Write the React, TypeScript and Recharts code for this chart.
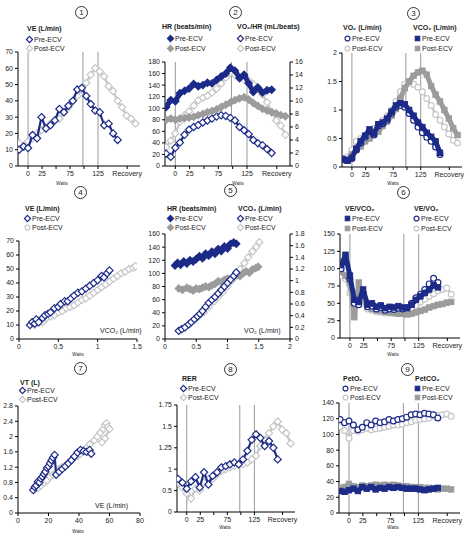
import React from 'react';
import { ScatterChart, Scatter, XAxis, YAxis, ReferenceLine } from 'recharts';

// shared time axis (watts / recovery), sampled every 8 units
const TIME = [-16, -8, 0, 8, 16, 24, 32, 40, 48, 56, 64, 72, 80, 88, 96, 104, 112, 120, 128, 136, 144, 152, 160, 168, 176, 184, 192];
const WATT_TICKS = [0, 25, 50, 75, 100, 125, 177];
const WATT_LABELS = ['0', '25', '', '75', '', '125', 'Recovery'];
const STAGE_LINES = [0, 98, 125];

// 1: VE over time
const p1PreVE = [10, 12, 11, 19, 17, 30, 23, 25, 28, 35, 33, 37, 40, 47, 48, 43, 38, 34, 33, 25, 26, 20, 16];
const p1PostVE = [14, 12, 15, 17, 20, 22, 24, 26, 28, 29, 33, 36, 40, 43, 47, 51, 56, 60, 58, 55, 49, 46, 40, 36, 31, 29, 26];

// 2: HR and VO2/HR over time
const p2PreHR = [102, 114, 112, 126, 130, 134, 142, 138, 140, 144, 143, 149, 155, 160, 170, 165, 152, 158, 143, 128, 136, 127, 131, 132];
const p2PostHR = [80, 82, 80, 82, 83, 84, 85, 88, 90, 93, 95, 98, 102, 106, 110, 114, 117, 119, 115, 109, 104, 99, 96, 93, 91, 88, 86];
const p2PrePulse = [1.9, 1.4, 2.8, 3.6, 4.8, 5.6, 6.0, 6.3, 6.7, 7.0, 7.3, 7.6, 7.8, 7.7, 7.4, 7.0, 6.0, 5.5, 4.9, 4.0, 3.5, 3.2, 2.6, 2.0];
const p2PostPulse = [2.9, 3.9, 5.0, 6.8, 7.8, 8.4, 9.3, 10.1, 10.5, 10.8, 11.3, 11.9, 12.7, 13.6, 14.3, 14.0, 13.8, 13.3, 13.2, 12.6, 11.9, 11.0, 9.8, 8.3, 7.0, 6.2, 4.8];

// 3: VO2 and VCO2 over time
const p3PreVO2 = [0.14, 0.12, 0.15, 0.3, 0.42, 0.52, 0.62, 0.56, 0.72, 0.76, 0.82, 0.94, 1.05, 1.08, 1.05, 0.94, 0.82, 0.7, 0.6, 0.52, 0.45, 0.35, 0.22];
const p3PreVCO2 = [0.13, 0.11, 0.16, 0.32, 0.45, 0.55, 0.66, 0.58, 0.75, 0.78, 0.85, 0.97, 1.08, 1.12, 1.1, 1.0, 0.9, 0.78, 0.7, 0.6, 0.53, 0.45, 0.25];
const p3PostVO2 = [0.15, 0.18, 0.3, 0.45, 0.5, 0.55, 0.62, 0.68, 0.75, 0.82, 0.9, 1.0, 1.15, 1.32, 1.45, 1.5, 1.45, 1.4, 1.32, 1.2, 1.08, 0.92, 0.82, 0.7, 0.58, 0.47, 0.42];
const p3PostVCO2 = [0.12, 0.13, 0.22, 0.3, 0.36, 0.45, 0.5, 0.58, 0.62, 0.72, 0.8, 0.9, 1.02, 1.2, 1.38, 1.5, 1.6, 1.66, 1.69, 1.62, 1.42, 1.27, 1.15, 1.0, 0.85, 0.68, 0.56];

// 4: VE vs VCO2
const p4PreVCO2 = [0.14, 0.17, 0.2, 0.22, 0.25, 0.3, 0.33, 0.37, 0.4, 0.45, 0.5, 0.53, 0.58, 0.62, 0.66, 0.7, 0.75, 0.8, 0.85, 0.9, 0.95, 1.0, 1.05, 1.08, 1.12, 1.15];
const p4PreVE = [10, 12, 11, 14, 12, 15, 17, 18, 19, 22, 23, 25, 27, 27, 29, 31, 33, 34, 36, 38, 40, 42, 45, 44, 47, 49];
const p4PostVCO2 = [0.16, 0.2, 0.25, 0.3, 0.35, 0.4, 0.45, 0.5, 0.55, 0.6, 0.65, 0.7, 0.75, 0.8, 0.85, 0.9, 0.95, 1.0, 1.05, 1.1, 1.15, 1.2, 1.25, 1.3, 1.35, 1.4, 1.45, 1.48];
const p4PostVE = [12, 10, 13, 12, 15, 16, 17, 19, 20, 22, 23, 24, 26, 28, 29, 31, 33, 35, 37, 39, 41, 43, 45, 47, 48, 50, 51, 52];

// 5: HR and VCO2 vs VO2
const p5PreVO2HR = [0.16, 0.2, 0.25, 0.3, 0.35, 0.4, 0.45, 0.5, 0.55, 0.6, 0.65, 0.7, 0.75, 0.8, 0.85, 0.9, 0.95, 1.0, 1.05, 1.1, 1.14];
const p5PreHR = [112, 116, 113, 118, 115, 120, 118, 122, 126, 123, 130, 127, 133, 130, 137, 134, 141, 138, 145, 147, 145];
const p5PostVO2HR = [0.22, 0.28, 0.35, 0.4, 0.45, 0.5, 0.55, 0.6, 0.65, 0.7, 0.75, 0.8, 0.85, 0.9, 0.95, 1.0, 1.05, 1.1, 1.15, 1.2, 1.25, 1.3, 1.35, 1.4, 1.45, 1.49];
const p5PostHR = [77, 75, 78, 76, 74, 77, 76, 78, 80, 79, 82, 84, 88, 87, 90, 92, 91, 95, 97, 96, 100, 103, 101, 106, 108, 110];
const p5PreVO2 = [0.22, 0.27, 0.32, 0.38, 0.42, 0.47, 0.52, 0.56, 0.6, 0.65, 0.7, 0.75, 0.8, 0.85, 0.9, 0.95, 1.0, 1.05, 1.1, 1.14];
const p5PreVCO2 = [0.14, 0.17, 0.2, 0.25, 0.29, 0.34, 0.39, 0.43, 0.48, 0.55, 0.62, 0.67, 0.72, 0.78, 0.84, 0.9, 0.96, 1.02, 1.08, 1.14];
const p5PostVO2 = [0.25, 0.32, 0.4, 0.48, 0.55, 0.62, 0.7, 0.78, 0.85, 0.92, 1.0, 1.07, 1.14, 1.2, 1.27, 1.33, 1.4, 1.46, 1.51];
const p5PostVCO2 = [0.16, 0.2, 0.26, 0.33, 0.4, 0.46, 0.55, 0.64, 0.72, 0.8, 0.9, 1.0, 1.1, 1.2, 1.3, 1.4, 1.5, 1.58, 1.66];

// 6: ventilatory equivalents over time
const p6PreVEVCO2 = [105, 120, 90, 55, 52, 70, 48, 50, 45, 47, 43, 45, 44, 46, 44, 43, 48, 55, 60, 65, 70, 76, 73];
const p6PreVEVO2 = [100, 110, 85, 50, 48, 65, 45, 46, 42, 44, 40, 42, 41, 43, 42, 44, 50, 58, 63, 70, 78, 86, 80];
const p6PostVEVCO2 = [95, 90, 80, 30, 80, 55, 45, 42, 40, 39, 38, 37, 36, 35, 35, 34, 35, 37, 39, 41, 44, 46, 48, 49, 51, 52];
const p6PostVEVO2 = [90, 85, 65, 35, 60, 50, 42, 40, 38, 37, 36, 36, 36, 37, 38, 40, 43, 47, 52, 56, 60, 64, 68, 70, 72, 63];

// 7: VT vs VE
const p7PreVE = [10, 11, 12, 13, 14, 15, 16, 17, 18, 19, 20, 21, 22, 23, 24, 25, 27, 29, 31, 33, 35, 37, 39, 41, 43, 45, 47, 48];
const p7PreVT = [0.6, 0.68, 0.72, 0.82, 0.8, 0.9, 0.95, 1.02, 1.08, 1.18, 1.22, 1.3, 1.38, 1.45, 1.52, 1.0, 1.08, 1.15, 1.22, 1.3, 1.38, 1.48, 1.58, 1.65, 1.62, 1.6, 1.65, 1.55];
const p7PostVE = [11, 13, 15, 17, 19, 21, 23, 25, 27, 29, 31, 33, 35, 37, 39, 41, 43, 45, 47, 50, 52, 54, 56, 57, 58, 59, 60, 57, 55];
const p7PostVT = [0.62, 0.65, 0.72, 0.8, 0.85, 0.95, 1.0, 1.05, 1.15, 1.2, 1.25, 1.3, 1.4, 1.45, 1.5, 1.55, 1.65, 1.7, 1.8, 1.9, 2.0, 2.1, 2.2, 2.3, 2.35, 2.25, 2.2, 1.95, 1.85];

// 8: RER over time (y in the evenly spaced units of the printed axis)
const RER_TICKS = [0, 0.35, 0.7, 1.05, 1.4, 1.75];
const RER_LABELS = ['0', '0.5', '1', '1.25', '1.5', '1.75'];
const p8PreRER = [0.54, 0.48, 0.38, 0.5, 0.57, 0.4, 0.65, 0.45, 0.59, 0.65, 0.73, 0.75, 0.78, 0.81, 0.78, 0.86, 1.0, 1.18, 1.27, 1.21, 1.08, 1.16, 1.05, 0.86];
const p8PostRER = [0.48, 0.4, 0.3, 0.22, 0.38, 0.35, 0.48, 0.54, 0.54, 0.62, 0.67, 0.7, 0.73, 0.75, 0.78, 0.78, 0.81, 0.86, 0.92, 1.08, 1.18, 1.29, 1.4, 1.48, 1.35, 1.29, 1.12];

// 9: end-tidal pressures over time
const p9PrePetO2 = [119, 115, 117, 112, 106, 109, 115, 112, 117, 115, 116, 119, 117, 119, 120, 122, 125, 126, 125, 127, 126, 125, 121];
const p9PostPetO2 = [110, 105, 95, 105, 104, 106, 108, 106, 107, 108, 109, 110, 112, 112, 113, 115, 116, 118, 119, 120, 121, 123, 124, 125, 126, 123];
const p9PrePetCO2 = [28, 27, 29, 31, 28, 33, 31, 33, 30, 32, 31, 33, 32, 33, 32, 31, 31, 31, 30, 29, 30, 31, 32];
const p9PostPetCO2 = [32, 33, 37, 34, 33, 35, 34, 35, 36, 35, 36, 35, 36, 35, 34, 34, 33, 33, 33, 32, 32, 31, 30, 31, 31, 30];

const NAVY = '#1c2a88';
const GRAY = '#9c9c9c';
const LIGHT = '#c6c6c6';

type Kind = 'diamond' | 'circle' | 'square';
type Axis = { domain: [number, number]; ticks: number[]; labels?: string[] };
type Series = { xs: number[]; ys: number[]; kind: Kind; color: string; filled: boolean; right?: boolean };

function Mark({ cx, cy, kind, color, filled, k = 1 }: { cx: number; cy: number; kind: Kind; color: string; filled: boolean; k?: number }) {
  if (cx == null || cy == null) return <g />;
  const fill = filled ? color : '#fff';
  if (kind === 'diamond') {
    const s = 3.6 * k;
    return <path d={`M${cx},${cy - s}L${cx + s},${cy}L${cx},${cy + s}L${cx - s},${cy}Z`} fill={fill} stroke={color} strokeWidth={1.2} />;
  }
  if (kind === 'circle') return <circle cx={cx} cy={cy} r={2.9 * k} fill={fill} stroke={color} strokeWidth={1.2} />;
  const h = 2.7 * k;
  return <rect x={cx - h} y={cy - h} width={2 * h} height={2 * h} fill={fill} stroke={color} strokeWidth={1} />;
}

const fmt = (ax: Axis) => (v: number) => (ax.labels ? ax.labels[ax.ticks.indexOf(v)] ?? '' : String(v));
const tickStyle = { fontSize: 7, fill: '#222' };

function Panel({ box, x, yl, yr, refs = [], series }: { box: number[]; x: Axis; yl: Axis; yr?: Axis; refs?: number[]; series: Series[] }) {
  const [l, t, r, b] = box;
  const wL = 22;
  const wR = yr ? 20 : 0;
  const hX = 13;
  const padT = 4;
  const padR = yr ? 0 : 6;
  return (
    <div style={{ position: 'absolute', left: l - wL, top: t - padT }}>
      <ScatterChart width={wL + (r - l) + wR + padR} height={padT + (b - t) + hX} margin={{ top: padT, right: padR, bottom: 0, left: 0 }}>
        <XAxis type="number" dataKey="x" domain={x.domain} ticks={x.ticks} tickFormatter={fmt(x)} interval={0} allowDataOverflow
          height={hX} tick={tickStyle} tickSize={3} axisLine={{ stroke: '#000' }} tickLine={{ stroke: '#000' }} />
        <YAxis yAxisId="l" type="number" dataKey="y" domain={yl.domain} ticks={yl.ticks} tickFormatter={fmt(yl)} interval={0} allowDataOverflow
          width={wL} tick={tickStyle} tickSize={3} axisLine={{ stroke: '#000' }} tickLine={{ stroke: '#000' }} />
        {yr && (
          <YAxis yAxisId="r" orientation="right" type="number" dataKey="y" domain={yr.domain} ticks={yr.ticks} tickFormatter={fmt(yr)} interval={0} allowDataOverflow
            width={wR} tick={tickStyle} tickSize={3} axisLine={{ stroke: '#000' }} tickLine={{ stroke: '#000' }} />
        )}
        {refs.map((v) => (
          <ReferenceLine key={v} x={v} yAxisId="l" stroke="#999" strokeWidth={1} />
        ))}
        {series.map((s, i) => (
          <Scatter
            key={i}
            yAxisId={s.right ? 'r' : 'l'}
            data={s.ys.map((y, k) => ({ x: s.xs[k], y }))}
            fill={s.color}
            line={{ stroke: s.color, strokeWidth: s.filled ? 5 : 2.2, strokeLinejoin: 'round' }}
            isAnimationActive={false}
            shape={(p: any) => <Mark cx={p.cx} cy={p.cy} kind={s.kind} color={s.color} filled={s.filled} />}
          />
        ))}
      </ScatterChart>
    </div>
  );
}

function Txt({ x, y, children, bold, size = 7, center }: { x: number; y: number; children: React.ReactNode; bold?: boolean; size?: number; center?: boolean }) {
  return (
    <div style={{ position: 'absolute', left: x, top: y, fontSize: size, fontWeight: bold ? 'bold' : 'normal', lineHeight: 1, whiteSpace: 'nowrap', color: '#222',
      transform: center ? 'translate(-50%, -50%)' : 'translateY(-50%)' }}>
      {children}
    </div>
  );
}

function Item({ x, y, kind, color, filled, label }: { x: number; y: number; kind: Kind; color: string; filled: boolean; label: string }) {
  return (
    <>
      <svg width={9} height={9} style={{ position: 'absolute', left: x - 4.5, top: y - 4.5 }}>
        <Mark cx={4.5} cy={4.5} kind={kind} color={color} filled={filled} k={0.85} />
      </svg>
      <Txt x={x + 5} y={y}>{label}</Txt>
    </>
  );
}

function Num({ x, y, n }: { x: number; y: number; n: number }) {
  return (
    <div style={{ position: 'absolute', left: x - 6, top: y - 6, width: 11, height: 11, border: '1px solid #333', borderRadius: '50%',
      fontSize: 8, lineHeight: '11px', textAlign: 'center', color: '#222' }}>
      {n}
    </div>
  );
}

const timeAxis: Axis = { domain: [-18, 200], ticks: WATT_TICKS, labels: WATT_LABELS };

export default function App() {
  return (
    <div style={{ position: 'fixed', left: 0, top: 0, width: 470, height: 538, background: '#fff', fontFamily: '"Liberation Sans", Arial, sans-serif', overflow: 'hidden' }}>
      {/* 1 */}
      <Num x={81} y={12} n={1} />
      <Txt x={27} y={28} bold>VE (L/min)</Txt>
      <Item x={29} y={39} kind="diamond" color={NAVY} filled={false} label="Pre-ECV" />
      <Item x={29} y={48} kind="diamond" color={LIGHT} filled={false} label="Post-ECV" />
      <Panel box={[18, 52, 140, 166]} x={timeAxis} yl={{ domain: [0, 70], ticks: [0, 10, 20, 30, 40, 50, 60, 70] }} refs={STAGE_LINES}
        series={[
          { xs: TIME, ys: p1PostVE, kind: 'diamond', color: LIGHT, filled: false },
          { xs: TIME, ys: p1PreVE, kind: 'diamond', color: NAVY, filled: false },
        ]} />
      <Txt x={62} y={184} size={4.5} center>Watts</Txt>

      {/* 2 */}
      <Num x={235} y={12} n={2} />
      <Txt x={162} y={26} bold>HR (beats/min)</Txt>
      <Txt x={237} y={26} bold>VO₂/HR (mL/beats)</Txt>
      <Item x={170} y={38} kind="diamond" color={NAVY} filled label="Pre-ECV" />
      <Item x={170} y={48} kind="diamond" color={GRAY} filled label="Post-ECV" />
      <Item x={240} y={38} kind="diamond" color={NAVY} filled={false} label="Pre-ECV" />
      <Item x={240} y={48} kind="diamond" color={LIGHT} filled={false} label="Post-ECV" />
      <Panel box={[165, 62, 290, 166]} x={timeAxis} yl={{ domain: [0, 180], ticks: [0, 20, 40, 60, 80, 100, 120, 140, 160, 180] }}
        yr={{ domain: [0, 16], ticks: [0, 2, 4, 6, 8, 10, 12, 14, 16] }} refs={STAGE_LINES}
        series={[
          { xs: TIME, ys: p2PostPulse, kind: 'diamond', color: LIGHT, filled: false, right: true },
          { xs: TIME, ys: p2PrePulse, kind: 'diamond', color: NAVY, filled: false, right: true },
          { xs: TIME, ys: p2PostHR, kind: 'diamond', color: GRAY, filled: true },
          { xs: TIME, ys: p2PreHR, kind: 'diamond', color: NAVY, filled: true },
        ]} />
      <Txt x={238} y={184} size={4.5} center>Watts</Txt>

      {/* 3 */}
      <Num x={413} y={13} n={3} />
      <Txt x={343} y={27} bold>VO₂ (L/min)</Txt>
      <Txt x={413} y={27} bold>VCO₂ (L/min)</Txt>
      <Item x={347} y={38} kind="circle" color={NAVY} filled={false} label="Pre-ECV" />
      <Item x={347} y={48} kind="circle" color={LIGHT} filled={false} label="Post-ECV" />
      <Item x={417} y={38} kind="square" color={NAVY} filled label="Pre-ECV" />
      <Item x={417} y={48} kind="square" color={GRAY} filled label="Post-ECV" />
      <Panel box={[342, 53, 462, 167]} x={timeAxis} yl={{ domain: [0, 2], ticks: [0, 0.5, 1, 1.5, 2] }} refs={STAGE_LINES}
        series={[
          { xs: TIME, ys: p3PostVO2, kind: 'circle', color: LIGHT, filled: false },
          { xs: TIME, ys: p3PostVCO2, kind: 'square', color: GRAY, filled: true },
          { xs: TIME, ys: p3PreVO2, kind: 'circle', color: NAVY, filled: false },
          { xs: TIME, ys: p3PreVCO2, kind: 'square', color: NAVY, filled: true },
        ]} />
      <Txt x={393} y={184} size={4.5} center>Watts</Txt>

      {/* 4 */}
      <Num x={80} y={192} n={4} />
      <Txt x={25} y={208} bold>VE (L/min)</Txt>
      <Item x={27} y={218} kind="diamond" color={NAVY} filled={false} label="Pre-ECV" />
      <Item x={27} y={227} kind="circle" color={LIGHT} filled={false} label="Post-ECV" />
      <Panel box={[19, 241, 137, 339]} x={{ domain: [0, 1.5], ticks: [0, 0.5, 1, 1.5] }} yl={{ domain: [0, 70], ticks: [0, 10, 20, 30, 40, 50, 60, 70] }}
        series={[
          { xs: p4PostVCO2, ys: p4PostVE, kind: 'diamond', color: LIGHT, filled: false },
          { xs: p4PreVCO2, ys: p4PreVE, kind: 'diamond', color: NAVY, filled: false },
        ]} />
      <Txt x={100} y={330}>VCO₂ (L/min)</Txt>
      <Txt x={78} y={355} size={4.5} center>Watts</Txt>

      {/* 5 */}
      <Num x={230} y={190} n={5} />
      <Txt x={167} y={208} bold>HR (beats/min)</Txt>
      <Txt x={238} y={208} bold>VCO₂ (L/min)</Txt>
      <Item x={170} y={218} kind="diamond" color={NAVY} filled label="Pre-ECV" />
      <Item x={170} y={227} kind="diamond" color={GRAY} filled label="Post-ECV" />
      <Item x={240} y={218} kind="diamond" color={NAVY} filled={false} label="Pre-ECV" />
      <Item x={240} y={227} kind="diamond" color={LIGHT} filled={false} label="Post-ECV" />
      <Panel box={[165, 234, 290, 339]} x={{ domain: [0, 2], ticks: [0, 0.5, 1, 1.5, 2] }} yl={{ domain: [0, 160], ticks: [0, 20, 40, 60, 80, 100, 120, 140, 160] }}
        yr={{ domain: [0, 1.8], ticks: [0, 0.2, 0.4, 0.6, 0.8, 1, 1.2, 1.4, 1.6, 1.8] }}
        series={[
          { xs: p5PostVO2, ys: p5PostVCO2, kind: 'diamond', color: LIGHT, filled: false, right: true },
          { xs: p5PostVO2HR, ys: p5PostHR, kind: 'diamond', color: GRAY, filled: true },
          { xs: p5PreVO2, ys: p5PreVCO2, kind: 'diamond', color: NAVY, filled: false, right: true },
          { xs: p5PreVO2HR, ys: p5PreHR, kind: 'diamond', color: NAVY, filled: true },
        ]} />
      <Txt x={244} y={330}>VO₂ (L/min)</Txt>

      {/* 6 */}
      <Num x={403} y={192} n={6} />
      <Txt x={345} y={208} bold>VE/VCO₂</Txt>
      <Txt x={414} y={208} bold>VE/VO₂</Txt>
      <Item x={347} y={218} kind="square" color={NAVY} filled label="Pre-ECV" />
      <Item x={347} y={228} kind="square" color={GRAY} filled label="Post-ECV" />
      <Item x={416} y={218} kind="circle" color={NAVY} filled={false} label="Pre-ECV" />
      <Item x={416} y={228} kind="circle" color={LIGHT} filled={false} label="Post-ECV" />
      <Panel box={[340, 234, 460, 338]} x={timeAxis} yl={{ domain: [0, 150], ticks: [0, 25, 50, 75, 100, 125, 150] }} refs={STAGE_LINES}
        series={[
          { xs: TIME, ys: p6PostVEVO2, kind: 'circle', color: LIGHT, filled: false },
          { xs: TIME, ys: p6PostVEVCO2, kind: 'square', color: GRAY, filled: true },
          { xs: TIME, ys: p6PreVEVO2, kind: 'circle', color: NAVY, filled: false },
          { xs: TIME, ys: p6PreVEVCO2, kind: 'square', color: NAVY, filled: true },
        ]} />
      <Txt x={393} y={355} size={4.5} center>Watts</Txt>

      {/* 7 */}
      <Num x={80} y={368} n={7} />
      <Txt x={20} y={382} bold>VT (L)</Txt>
      <Item x={22} y={390} kind="diamond" color={NAVY} filled={false} label="Pre-ECV" />
      <Item x={22} y={399} kind="diamond" color={LIGHT} filled={false} label="Post-ECV" />
      <Panel box={[18, 406, 140, 513]} x={{ domain: [0, 80], ticks: [0, 20, 40, 60, 80] }} yl={{ domain: [0, 2.8], ticks: [0, 0.4, 0.8, 1.2, 1.6, 2, 2.4, 2.8] }}
        series={[
          { xs: p7PostVE, ys: p7PostVT, kind: 'diamond', color: LIGHT, filled: false },
          { xs: p7PreVE, ys: p7PreVT, kind: 'diamond', color: NAVY, filled: false },
        ]} />
      <Txt x={95} y={505}>VE (L/min)</Txt>
      <Txt x={78} y={532} size={4.5} center>Watts</Txt>

      {/* 8 */}
      <Num x={230} y={369} n={8} />
      <Txt x={182} y={378} bold>RER</Txt>
      <Item x={183} y={388} kind="diamond" color={NAVY} filled={false} label="Pre-ECV" />
      <Item x={183} y={397} kind="diamond" color={LIGHT} filled={false} label="Post-ECV" />
      <Panel box={[177, 405, 295, 512]} x={timeAxis} yl={{ domain: [0, 1.75], ticks: RER_TICKS, labels: RER_LABELS }} refs={STAGE_LINES}
        series={[
          { xs: TIME, ys: p8PostRER, kind: 'diamond', color: LIGHT, filled: false },
          { xs: TIME, ys: p8PreRER, kind: 'diamond', color: NAVY, filled: false },
        ]} />
      <Txt x={225} y={528} size={4.5} center>Watts</Txt>

      {/* 9 */}
      <Num x={407} y={369} n={9} />
      <Txt x={343} y={378} bold>PetO₂</Txt>
      <Txt x={415} y={378} bold>PetCO₂</Txt>
      <Item x={345} y={388} kind="circle" color={NAVY} filled={false} label="Pre-ECV" />
      <Item x={345} y={397} kind="circle" color={LIGHT} filled={false} label="Post-ECV" />
      <Item x={417} y={388} kind="square" color={NAVY} filled label="Pre-ECV" />
      <Item x={417} y={397} kind="square" color={GRAY} filled label="Post-ECV" />
      <Panel box={[339, 403, 460, 513]} x={timeAxis} yl={{ domain: [0, 140], ticks: [0, 20, 40, 60, 80, 100, 120, 140] }} refs={STAGE_LINES}
        series={[
          { xs: TIME, ys: p9PostPetO2, kind: 'circle', color: LIGHT, filled: false },
          { xs: TIME, ys: p9PrePetO2, kind: 'circle', color: NAVY, filled: false },
          { xs: TIME, ys: p9PostPetCO2, kind: 'square', color: GRAY, filled: true },
          { xs: TIME, ys: p9PrePetCO2, kind: 'square', color: NAVY, filled: true },
        ]} />
      <Txt x={393} y={528} size={4.5} center>Watts</Txt>
    </div>
  );
}
